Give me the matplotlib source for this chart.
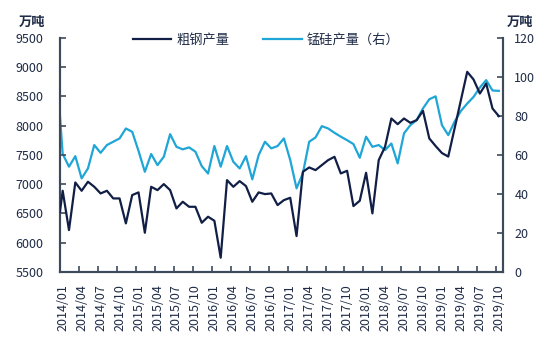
import numpy as np
import matplotlib
matplotlib.use('Agg')
import matplotlib.pyplot as plt

plt.rcParams['font.family'] = ['Noto Sans CJK SC', 'DejaVu Sans']

# month labels 2014/01 .. 2019/10
months = [f'{y}/{m:02d}' for y in range(2014, 2020) for m in range(1, 13)][:70]

# crude steel output (left axis)
steel_start = 6525
steel = [6885, 6213, 7027, 6885, 7039, 6953, 6839, 6885, 6754, 6754,
         6327, 6811, 6857, 6167, 6953, 6896, 6999, 6896, 6583, 6697,
         6611, 6611, 6338, 6441, 6372, 5740, 7067, 6953, 7050, 6965,
         6697, 6857, 6828, 6839, 6640, 6725, 6765, 6110, 7210, 7284,
         7238, 7324, 7409, 7466, 7181, 7227, 6623, 6714, 7193, 6498,
         7409, 7637, 8121, 8024, 8121, 8047, 8093, 8252, 7780, 7650,
         7530, 7470, 7950, 8435, 8919, 8788, 8548, 8719, 8292, 8161]

# silicomanganese output (right axis)
mnsi_start = 80
mnsi = [60.5, 53.9, 59.3, 47.9, 53.0, 65.0, 61.0, 65.0, 66.7, 68.4,
        73.5, 71.8, 62.0, 51.3, 60.4, 54.7, 59.0, 70.6, 64.1, 62.8,
        63.8, 61.6, 54.2, 50.4, 64.5, 53.9, 64.5, 56.4, 53.0, 59.3,
        47.4, 59.8, 66.7, 63.3, 64.5, 68.4, 57.3, 42.8, 50.5, 66.7,
        68.9, 74.7, 73.5, 71.3, 69.3, 67.5, 65.5, 58.5, 69.3, 64.1,
        65.0, 62.4, 65.8, 55.6, 71.0, 75.2, 77.8, 83.8, 88.5, 90.0,
        75.2, 70.1, 77.0, 82.5, 86.3, 89.7, 94.5, 98.3, 93.0, 92.8]

DARK = '#111f47'
LIGHT = '#1fa6d6'
AXIS = '#3d4a5c'
TEXT = '#1f2b47'

# axis limits in month-index units (the first value sits on the left spine)
x_left, x_right = -0.43, 69.7

x = np.r_[x_left, np.arange(len(months))]
y_steel = np.r_[steel_start, steel]
y_mnsi = np.r_[mnsi_start, mnsi]

fig = plt.figure(figsize=(5.5, 3.38), dpi=100)
ax = fig.add_axes([0.109, 0.196, 0.806, 0.692])
ax2 = ax.twinx()

ax.plot(x, y_steel, color=DARK, lw=1.6, label='粗钢产量', zorder=3)
ax2.plot(x, y_mnsi, color=LIGHT, lw=1.6, label='锰硅产量（右）', zorder=2)
ax.set_zorder(ax2.get_zorder() + 1)
ax.patch.set_visible(False)

ax.set_xlim(x_left, x_right)
ax.set_ylim(5500, 9500)
ax.set_yticks(np.arange(5500, 9501, 500))
ax2.set_ylim(0, 120)
ax2.set_yticks(np.arange(0, 121, 20))

# tick marks between categories, labels centred on every third month
idx = np.arange(0, len(months), 3)
ax.set_xticks(idx - 0.42)
ax.set_xticklabels([])
ax.set_xticks(idx, minor=True)
ax.set_xticklabels([months[i] for i in idx], minor=True, rotation=90)
ax.tick_params(axis='x', which='minor', length=0, pad=9, labelsize=9, labelcolor=TEXT)
ax.tick_params(axis='x', which='major', direction='in', length=4, width=1.2, color=AXIS)

ax.tick_params(axis='y', direction='in', length=4, width=1.2, color=AXIS,
               labelsize=9, labelcolor=TEXT, pad=12)
ax2.tick_params(axis='y', direction='in', length=4, width=1.2, color=AXIS,
                labelsize=9, labelcolor=TEXT, pad=8)

for a in (ax, ax2):
    a.spines['top'].set_visible(False)
    for s in ('left', 'right', 'bottom'):
        a.spines[s].set_color(AXIS)
        a.spines[s].set_linewidth(1.5)

# units
fig.text(0.058, 0.935, '万吨', ha='center', va='center', fontsize=9.5,
         fontweight='bold', color=TEXT)
fig.text(0.945, 0.935, '万吨', ha='center', va='center', fontsize=9.5,
         fontweight='bold', color=TEXT)

h1, l1 = ax.get_legend_handles_labels()
h2, l2 = ax2.get_legend_handles_labels()
fig.legend(h1 + h2, l1 + l2, loc='center', bbox_to_anchor=(0.484, 0.882),
           ncol=2, frameon=False, fontsize=9.5, handlelength=2.9,
           columnspacing=2.6, handletextpad=0.4, labelcolor=TEXT)

fig.savefig('out.png', dpi=100)
